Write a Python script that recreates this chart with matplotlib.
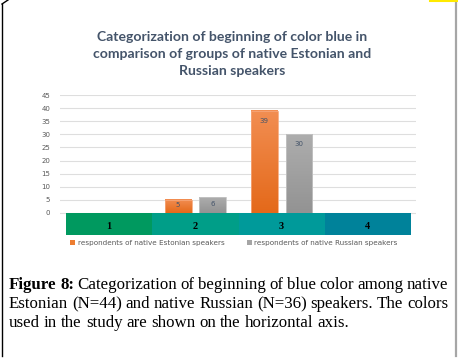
import matplotlib

matplotlib.use("Agg")
import matplotlib.pyplot as plt
import numpy as np
from matplotlib.colors import LinearSegmentedColormap
from matplotlib.lines import Line2D
from matplotlib.patches import Patch, Rectangle

# data
categories = ["1", "2", "3", "4"]
estonian = [0, 5, 39, 0]
russian = [0, 6, 30, 0]
series_names = [
    "respondents of native Estonian speakers",
    "respondents of native Russian speakers",
]
yticks = list(range(0, 46, 5))
strip_colors = ["#00995f", "#009e88", "#009a9a", "#00829a"]

title = "Categorization of beginning of color blue in\ncomparison of groups of native Estonian and\nRussian speakers"
caption_lines = [
    ["Figure", "8:", "Categorization", "of", "beginning", "of", "blue", "color", "among", "native"],
    ["Estonian", "(N=44)", "and", "native", "Russian", "(N=36)", "speakers.", "The", "colors"],
    ["used", "in", "the", "study", "are", "shown", "on", "the", "horizontal", "axis."],
]

W, H = 458, 358
fig = plt.figure(figsize=(W / 100, H / 100), dpi=100)
fig.patch.set_facecolor("white")


def fx(px):
    return px / W


def fy(py):
    return 1 - py / H


# chart axes: gridlines span x 60..416 px, y 45 -> 95 px, strip bottom 235 px
ax = fig.add_axes([fx(60), fy(235), fx(416) - fx(60), fy(95) - fy(235)])
for s in ax.spines.values():
    s.set_visible(False)
ax.set_yticks(yticks)
ax.set_yticklabels([str(t) for t in yticks], fontsize=5, color="#595959")
ax.tick_params(axis="y", length=0, pad=7)
ax.set_xticks([])
ax.yaxis.grid(True, color="#dedede", linewidth=0.8)
ax.set_axisbelow(True)

x = np.arange(len(categories))
bw = 0.31
off = 0.2

# category strip below zero
for i, c in enumerate(categories):
    ax.add_patch(Rectangle((i - 0.5, -8.4), 1, 8.4, facecolor=strip_colors[i],
                           edgecolor="none", zorder=3))
    ax.text(i, -5.0, c, ha="center", va="center", fontsize=7.5, fontweight="bold",
            family="Liberation Serif", color="black", zorder=4)

grad = np.linspace(0, 1, 64).reshape(-1, 1)
orange_cmap = LinearSegmentedColormap.from_list("o", ["#e4691a", "#f28e52"])
gray_cmap = LinearSegmentedColormap.from_list("g", ["#939393", "#adadad"])

for vals, dx, cmap, edge in [
    (estonian, -off, orange_cmap, "#f6a679"),
    (russian, off, gray_cmap, "#c4c4c4"),
]:
    for xi, v in zip(x, vals):
        if v <= 0:
            continue
        x0 = xi + dx - bw / 2
        ax.imshow(grad, extent=[x0, x0 + bw, 0, v], origin="lower", aspect="auto",
                  cmap=cmap, zorder=2, interpolation="bilinear")
        ax.add_patch(Rectangle((x0, 0), bw, v, facecolor="none", edgecolor=edge,
                               linewidth=0.6, zorder=2.5))
        ax.text(xi + dx, max(v - 3.8, v * 0.6), str(v), ha="center", va="center",
                fontsize=5, color="#44546a", zorder=4)

ax.set_xlim(-0.57, 3.558)
ax.set_ylim(-8.4, 45)

# legend
handles = [Patch(facecolor="#ed7d31"), Patch(facecolor="#a5a5a5")]
fig.legend(handles, series_names, loc="center", bbox_to_anchor=(fx(234), fy(243)),
           ncol=2, frameon=False, fontsize=5.2, labelcolor="#595959",
           handlelength=0.7, handleheight=0.7, handletextpad=0.4, columnspacing=3.0)

# title
fig.text(fx(232), fy(54), title, ha="center", va="center", fontsize=10.1,
         fontweight="bold", family="Lato", color="#44546a", linespacing=1.5)

# caption, justified
renderer = fig.canvas.get_renderer()
left, right = 9, 448
baselines = [289, 308, 327]
for li, words in enumerate(caption_lines):
    arts = []
    for wi, w in enumerate(words):
        bold = li == 0 and wi < 2
        t = fig.text(0, fy(baselines[li]), w, ha="left", va="baseline", fontsize=12.2,
                     family="Liberation Serif", fontweight="bold" if bold else "normal",
                     color="black")
        arts.append(t)
    widths = [a.get_window_extent(renderer).width for a in arts]
    if li < len(caption_lines) - 1:
        gap = (right - left - sum(widths)) / (len(words) - 1)
    else:
        gap = 4.0
    pos = left
    for a, wd in zip(arts, widths):
        a.set_x(fx(pos))
        pos += wd + gap

# page frame
fig.add_artist(Line2D([fx(2), fx(2)], [fy(4), fy(356)], color="black", linewidth=1.0))
fig.add_artist(Line2D([fx(2), fx(8)], [fy(4), fy(0)], color="black", linewidth=1.0))
fig.add_artist(Line2D([fx(455.5), fx(455.5)], [fy(2), fy(356)], color="#a6a6a6", linewidth=1.6))
fig.add_artist(Line2D([fx(430), fx(458)], [fy(0.8), fy(0.8)], color="#ffea00", linewidth=1.5))

fig.savefig("out.png", dpi=100, facecolor="white")
